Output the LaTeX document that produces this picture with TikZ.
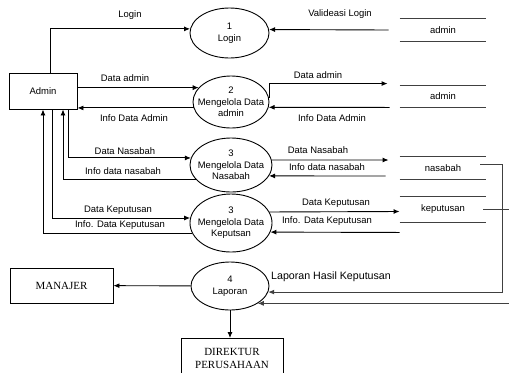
\documentclass[tikz,border=0pt]{standalone}
\usepackage{fontspec}
\setmainfont{Liberation Sans}
\newfontfamily\timesf{Liberation Serif}
\usepackage{tikz}
\usetikzlibrary{shapes.geometric,arrows.meta}
\tikzset{
  proc/.style={draw, ellipse, align=center, inner xsep=-8bp, inner ysep=0pt},
  ent/.style={draw, rectangle, align=center, font=\timesf\fontsize{11}{13.5}\selectfont},
  store/.style={minimum width=86bp, inner sep=0pt},
  storeline/.style={draw=black!75},
  flow/.style={-{Latex[length=6bp,width=5bp]}},
  lbl/.style={inner sep=0pt}
}

\begin{document}
\begin{tikzpicture}[x=1bp, y=-1bp, line width=0.9bp, font=\fontsize{9.5}{11.5}\selectfont]
        \useasboundingbox (0,0) rectangle (509,372);

        \node[draw, minimum width=68bp, minimum height=36bp] (admin) at (43,91) {Admin};
        \node[proc, minimum width=79bp, minimum height=50bp] (p1) at (229.5,33) {1\\Login};
        \node[proc, minimum width=76bp, minimum height=52bp] (p2) at (231,102) {2\\Mengelola Data\\admin};
        \node[proc, minimum width=82bp, minimum height=54bp] (p3) at (231,165) {3\\Mengelola Data\\Nasabah};
        \node[proc, minimum width=82bp, minimum height=58bp] (p3b) at (231,223) {3\\Mengelola Data\\Keputsan};
        \node[proc, minimum width=78bp, minimum height=48bp] (p4) at (230,286) {4\\Laporan};
        \node[ent, minimum width=103bp, minimum height=35bp] (manajer) at (61.5,285.5) {MANAJER};
        \node[ent, minimum width=102bp, minimum height=40bp, anchor=north] (direktur) at (232,338) {DIREKTUR\\PERUSAHAAN};

        \node[store, minimum height=22bp] (sa) at (443,30) {admin};
        \node[store, minimum height=21bp] (sb) at (443,96.5) {admin};
        \node[store, minimum height=22bp] (sn) at (443,168) {nasabah};
        \node[store, minimum height=25bp] (sk) at (443,209.5) {keputusan};
        \foreach \s in {sa,sb,sn,sk}
            \draw[storeline] (\s.north west) -- (\s.north east) (\s.south west) -- (\s.south east);

        \draw[flow] ([xshift=7bp]admin.north) |- (p1.174);
        \draw[flow] ([xshift=-11bp]sa.west) -- (p1.5);
        \draw[flow] (admin.east |- p2.156) -- (p2.156);
        \draw[flow] (p2.189) -- (admin.east |- p2.189);
        \draw[flow] (p2.6) |- ([xshift=-12bp,yshift=2bp]sb.north west);
        \draw[flow] ([xshift=-10bp]sb.south west) -- (p2.-8);
        \draw[flow] ([xshift=25bp]admin.south) |- (p3.170);
        \draw[flow] (p3.202) -| ([xshift=20bp]admin.south);
        \draw[flow] (p3.7) -- ([xshift=-11bp,yshift=8bp]sn.west);
        \draw[flow] ([xshift=-14bp,yshift=-8bp]sn.west) -- (p3.-16);
        \draw[flow] ([xshift=9bp]admin.south) |- (p3b.173);
        \draw[flow] (p3b.195) -| (admin.south);
        \draw[flow] (p3b.16) -- ([yshift=-2bp]sk.west);
        \draw[flow] ([yshift=-10bp]sk.south west) -- (p3b.-13);
        \draw[flow] (p4) -- (manajer);
        \draw[flow] (p4.south) -- (p4.south |- direktur.north);
        \draw[flow, storeline] ([xshift=-6bp,yshift=4bp]sn.east) -- ++(22,0) |- (p4.-9);
        \draw[flow, storeline] ([xshift=-3bp]sk.east) -- ++(30,0) |- (p4.-32);

        \node[lbl] (l1) at (130,15) {Login};
        \node[lbl] (l2) at (340,14) {Valideasi Login};
        \node[lbl] (l3) at (125,78) {Data admin};
        \node[lbl] (l4) at (134,118) {Info Data Admin};
        \node[lbl] (l5) at (318,75) {Data admin};
        \node[lbl] (l6) at (332,118) {Info Data Admin};
        \node[lbl] (l7) at (125,151) {Data Nasabah};
        \node[lbl] (l8) at (123,171) {Info data nasabah};
        \node[lbl] (l9) at (318,150) {Data Nasabah};
        \node[lbl] (l10) at (327,167) {Info data nasabah};
        \node[lbl] (l11) at (118,210) {Data Keputusan};
        \node[lbl] (l12) at (120,225) {Info. Data Keputusan};
        \node[lbl] (l13) at (336,203) {Data Keputusan};
        \node[lbl] (l14) at (327,221) {Info. Data Keputusan};
        \node[lbl, font=\fontsize{10.7}{13}\selectfont] (l15) at (331,277) {Laporan Hasil Keputusan};
\end{tikzpicture}
\end{document}
